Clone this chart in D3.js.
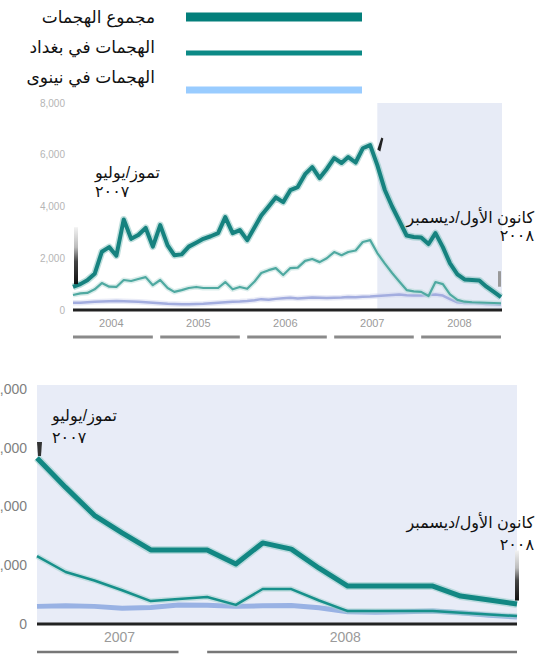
<!DOCTYPE html>
<html>
<head>
<meta charset="utf-8">
<script src="https://cdn.jsdelivr.net/npm/d3@7"></script>
<style>
  body { margin: 0; background: #fff; }
  svg { display: block; font-family: "Liberation Sans", "DejaVu Sans", sans-serif; }
</style>
</head>
<body>
<svg id="main"></svg>
<script>
let width = 535
let height = 655

// legend / series names
let seriesNames = ['مجموع الهجمات', 'الهجمات في بغداد', 'الهجمات في نينوى']

// overview chart, monthly Jan 2004 - Dec 2008
let topTotal = [
    890, 1000, 1150, 1400, 2250, 2430, 2100, 3500, 2750, 2900, 3170, 2450,
    3280, 2500, 2120, 2150, 2450, 2600, 2750, 2850, 2970, 3590, 2970, 3090,
    2700, 3200, 3650, 4000, 4350, 4170, 4630, 4750, 5250, 5520, 5100, 5450,
    5870, 5680, 5910, 5700, 6250, 6370, 5600, 4650, 4000, 3450, 2880, 2820,
    2800, 2550, 2970, 2430, 1800, 1380, 1180, 1160, 1140, 900, 700, 500
]
let topBaghdad = [
    580, 640, 660, 800, 1040, 900, 890, 1160, 1120, 1200, 1270, 960,
    1160, 850, 700, 770, 850, 890, 850, 850, 850, 1080, 800, 890,
    820, 1100, 1430, 1540, 1620, 1350, 1620, 1640, 1900, 1970, 1850, 2000,
    2240, 2120, 2240, 2300, 2630, 2700, 2200, 1800, 1430, 1100, 770, 720,
    700, 540, 1080, 1000, 600, 390, 320, 300, 290, 280, 270, 260
]
let topNineveh = [
    280, 280, 300, 320, 330, 340, 350, 340, 330, 320, 300, 280,
    260, 240, 230, 220, 220, 230, 240, 260, 280, 300, 320, 330,
    350, 380, 420, 400, 430, 450, 470, 440, 460, 480, 470, 460,
    470, 480, 500, 490, 510, 520, 540, 560, 580, 600, 570, 560,
    560, 580, 600, 560, 420, 300, 270, 280, 250, 230, 220, 200
]
let topYears = [2004, 2005, 2006, 2007, 2008]

// detail chart, monthly Jul 2007 - Dec 2008
let botTotal = [5650, 4650, 3700, 3100, 2520, 2520, 2520, 2040, 2760, 2550, 1900, 1290, 1290, 1290, 1290, 950, 820, 680]
let botBaghdad = [2310, 1770, 1480, 1150, 780, 850, 920, 650, 1190, 1190, 800, 440, 440, 440, 440, 380, 320, 270]
let botNineveh = [600, 620, 600, 540, 560, 650, 640, 600, 620, 630, 550, 420, 400, 420, 440, 380, 300, 240]
let botYears = [2007, 2008]

let yTicks = [0, 2000, 4000, 6000, 8000]
let noteStart = ['تموز/يوليو', '٢٠٠٧']
let noteEnd = ['كانون الأول/ديسمبر', '٢٠٠٨']

let svg = d3.select('#main')
    .attr('width', width)
    .attr('height', height)

let defs = svg.append('defs')
const grad = (id, stops) => {
    let g = defs.append('linearGradient').attr('id', id)
        .attr('x1', 0).attr('y1', 0).attr('x2', 0).attr('y2', 1)
    stops.forEach(s => g.append('stop').attr('offset', s[0]).attr('stop-color', s[1]))
}
grad('markFade', [[0, '#f2f2f2'], [0.35, '#bbbbbb'], [0.6, '#444'], [1, '#111']])

const monthsFrom = (start, n) => d3.range(n).map(i => d3.timeMonth.offset(start, i))

// ---------------- legend ----------------
let legendY = [17, 53, 90]
let legendW = [9, 5, 7]
let legendC = ['#047f7b', '#0c8a86', '#99ccff']
let legendTextY = [23, 53, 83]
seriesNames.forEach((name, i) => {
    svg.append('text')
        .attr('x', 155)
        .attr('y', legendTextY[i])
        .attr('text-anchor', 'end')
        .attr('font-size', 17)
        .attr('fill', '#111')
        .text(name)
    svg.append('line')
        .attr('x1', 186).attr('x2', 362)
        .attr('y1', legendY[i]).attr('y2', legendY[i])
        .attr('stroke', legendC[i])
        .attr('stroke-width', legendW[i])
})

// ---------------- overview chart ----------------
let topMonths = monthsFrom(new Date(2004, 0, 1), topTotal.length)
let xTop = d3.scaleTime()
    .domain([topMonths[0], topMonths[topMonths.length - 1]])
    .range([73, 501])
let yTop = d3.scaleLinear().domain([0, 8000]).range([310, 103])

let shadeStart = new Date(2007, 6, 1)
svg.append('rect')
    .attr('x', xTop(shadeStart))
    .attr('y', yTop(8000))
    .attr('width', 502 - xTop(shadeStart))
    .attr('height', yTop(0) - yTop(8000))
    .attr('fill', '#e7ebf6')

let yAxisTop = d3.axisLeft(yTop).tickValues(yTicks).tickSize(0).tickFormat(d3.format(','))
svg.append('g')
    .attr('transform', 'translate(68, 0)')
    .call(yAxisTop)
    .call(g => g.select('.domain').remove())
    .selectAll('text')
    .attr('font-size', 10)
    .attr('fill', '#b5b5b5')
    .attr('font-family', '"Liberation Sans Narrow", "Liberation Sans", sans-serif')

let lineTop = d3.line()
    .x((d, i) => xTop(topMonths[i]))
    .y(d => yTop(d))
    .curve(d3.curveLinear)

const drawLine = (data, gen, color, w, halo) => {
    if (halo) {
        svg.append('path').datum(data)
            .attr('d', gen).attr('fill', 'none')
            .attr('stroke', halo).attr('stroke-width', w + 3)
            .attr('stroke-linejoin', 'round').attr('opacity', 0.5)
    }
    svg.append('path').datum(data)
        .attr('d', gen).attr('fill', 'none')
        .attr('stroke', color).attr('stroke-width', w)
        .attr('stroke-linejoin', 'round')
}

drawLine(topNineveh, lineTop, '#a3addf', 2.5, '#d3d8f0')
drawLine(topBaghdad, lineTop, '#4fa9a1', 2.2, '#b7dcd8')
drawLine(topTotal, lineTop, '#16827f', 4, '#7fc0bc')

svg.append('line')
    .attr('x1', 73).attr('x2', 502)
    .attr('y1', yTop(0)).attr('y2', yTop(0))
    .attr('stroke', '#222').attr('stroke-width', 3)

let xAxisTop = d3.axisBottom(xTop)
    .tickValues(topYears.map(y => new Date(y, 5, 16)))
    .tickSize(0)
    .tickFormat(d3.timeFormat('%Y'))
svg.append('g')
    .attr('transform', `translate(-2, ${yTop(0) + 6})`)
    .call(xAxisTop)
    .call(g => g.select('.domain').remove())
    .selectAll('text')
    .attr('font-size', 11)
    .attr('fill', '#9a9a9a')
    .attr('font-family', '"Liberation Sans Narrow", "Liberation Sans", sans-serif')

svg.selectAll('.topUnder')
    .data(topYears)
    .enter()
    .append('line')
    .attr('class', 'topUnder')
    .attr('x1', d => xTop(new Date(d, 0, 1)))
    .attr('x2', d => xTop(new Date(d, 11, 1)))
    .attr('y1', 337).attr('y2', 337)
    .attr('stroke', '#8a8a8a').attr('stroke-width', 3)

// markers from the original graphic
svg.append('rect')
    .attr('x', xTop(topMonths[0]) + 1).attr('y', yTop(3200))
    .attr('width', 4).attr('height', yTop(1000) - yTop(3200))
    .attr('fill', 'url(#markFade)')
svg.append('path')
    .attr('d', `M${xTop(shadeStart)},${yTop(6200)} l4,-12 l2,1 l-3,13 z`)
    .attr('fill', '#222')
svg.append('rect')
    .attr('x', 498).attr('y', yTop(1500))
    .attr('width', 3).attr('height', yTop(900) - yTop(1500))
    .attr('fill', '#999')

const note = (lines, x, y, anchor, gap) => {
    lines.forEach((t, i) => {
        svg.append('text')
            .attr('x', x).attr('y', y + i * gap)
            .attr('text-anchor', anchor)
            .attr('font-size', i === 0 ? 16 : 16)
            .attr('letter-spacing', i === 0 ? 0 : 4)
            .attr('fill', '#111')
            .text(t)
    })
}
note(noteStart, 95, 178, 'start', 19)
note(noteEnd, 534, 223, 'end', 18)

// ---------------- detail chart ----------------
let botMonths = monthsFrom(new Date(2007, 6, 1), botTotal.length)
let xBot = d3.scaleTime()
    .domain([botMonths[0], botMonths[botMonths.length - 1]])
    .range([37, 517])
let yBot = d3.scaleLinear().domain([0, 8000]).range([624, 389])

svg.append('rect')
    .attr('x', 37).attr('y', 385)
    .attr('width', 480).attr('height', yBot(0) - 385)
    .attr('fill', '#e8ecf7')

let yAxisBot = d3.axisLeft(yBot).tickValues(yTicks).tickSize(0).tickFormat(d3.format(','))
svg.append('g')
    .attr('transform', 'translate(30, 0)')
    .call(yAxisBot)
    .call(g => g.select('.domain').remove())
    .selectAll('text')
    .attr('font-size', 14)
    .attr('fill', '#808080')
    .attr('font-family', '"Liberation Sans Narrow", "Liberation Sans", sans-serif')

let lineBot = d3.line()
    .x((d, i) => xBot(botMonths[i]))
    .y(d => yBot(d))

drawLine(botNineveh, lineBot, '#99b2e4', 5, null)
drawLine(botBaghdad, lineBot, '#17908b', 2.5, '#9fd0cc')
drawLine(botTotal, lineBot, '#128783', 5, '#8cc7c3')

svg.append('line')
    .attr('x1', 37).attr('x2', 517)
    .attr('y1', yBot(0)).attr('y2', yBot(0))
    .attr('stroke', '#222').attr('stroke-width', 3)

let xAxisBot = d3.axisBottom(xBot)
    .tickValues([new Date(2007, 9, 1), new Date(2008, 5, 1)])
    .tickSize(0)
    .tickFormat(d3.timeFormat('%Y'))
svg.append('g')
    .attr('transform', `translate(-3, ${yBot(0) + 5})`)
    .call(xAxisBot)
    .call(g => g.select('.domain').remove())
    .selectAll('text')
    .attr('font-size', 14)
    .attr('fill', '#9a9a9a')
    .attr('font-family', '"Liberation Sans Narrow", "Liberation Sans", sans-serif')

let botUnder = [[new Date(2007, 6, 1), new Date(2007, 11, 1)], [new Date(2008, 0, 1), new Date(2008, 11, 1)]]
svg.selectAll('.botUnder')
    .data(botUnder)
    .enter()
    .append('line')
    .attr('class', 'botUnder')
    .attr('x1', d => xBot(d[0]))
    .attr('x2', d => xBot(d[1]))
    .attr('y1', 652).attr('y2', 652)
    .attr('stroke', '#777').attr('stroke-width', 2.5)

svg.append('path')
    .attr('d', `M${xBot(botMonths[0])},${yBot(6200)} h5 l-1,14 h-3 z`)
    .attr('fill', '#333')
svg.append('rect')
    .attr('x', 515).attr('y', yBot(2500))
    .attr('width', 4).attr('height', yBot(800) - yBot(2500))
    .attr('fill', 'url(#markFade)')

note(noteStart, 52, 421, 'start', 22)
note(noteEnd, 534, 528, 'end', 22)
</script>
</body>
</html>
